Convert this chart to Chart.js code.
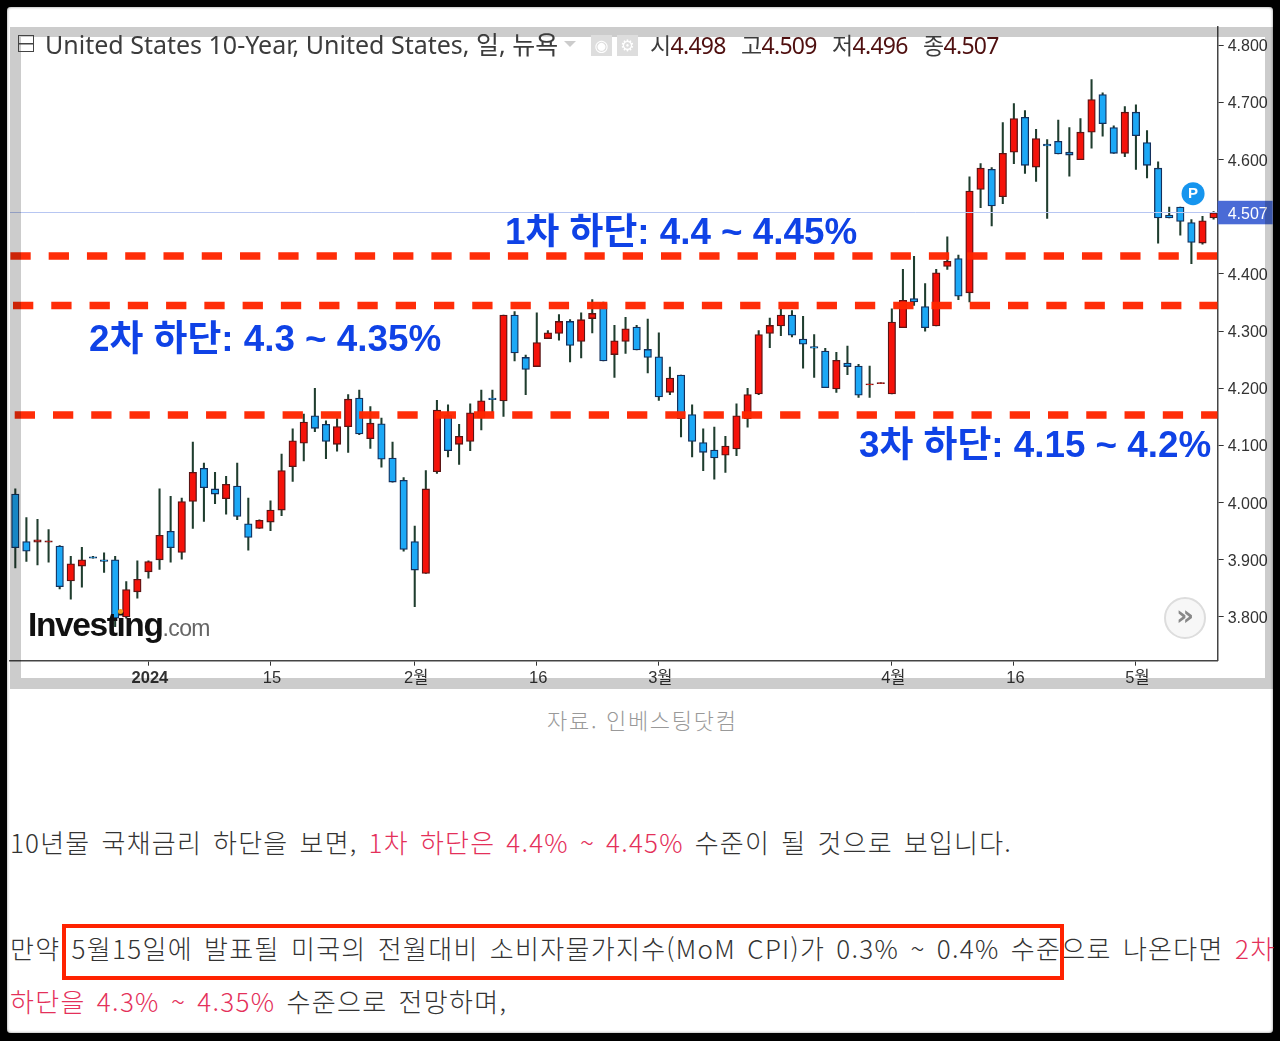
<!DOCTYPE html>
<html lang="ko">
<head>
<meta charset="utf-8">
<title>United States 10-Year</title>
<script src="https://cdn.jsdelivr.net/npm/chart.js@4"></script>
<style>
    html, body { margin: 0; padding: 0; background: #000; }
    #page { position: relative; width: 1280px; height: 1041px; background: #000; overflow: hidden; }
    #paper { position: absolute; left: 7px; top: 7px; width: 1266px; height: 1026px; background: #fff; border-radius: 4px; box-shadow: inset 0 0 3px #888; }
    #chart { position: absolute; left: 0; top: 0; }
    #frame { position: absolute; left: 10px; top: 27px; width: 1263px; height: 662px; box-sizing: border-box; border-style: solid; border-color: #ccc; border-width: 10px 8px 11px 11px; mix-blend-mode: multiply; pointer-events: none; }
    .txt { position: absolute; white-space: nowrap; line-height: 1; }
    .head { font-family: "Noto Sans", "Noto Sans CJK KR", sans-serif; font-size: 25px; color: #3c3c3c; }
    .ohlc { font-size: 23px; letter-spacing: -0.7px; top: 34px; }
    .ohlc b { font-weight: 400; color: #4f1010; }
    .mark { font-family: "Liberation Sans", "Noto Sans CJK KR", sans-serif; font-weight: 700; font-size: 36.8px; color: #0f42e6; }
    .body { font-family: "Noto Sans CJK KR", sans-serif; font-weight: 300; font-size: 26px; letter-spacing: 1.3px; word-spacing: 2.6px; color: #333; }
    .red { color: #e4305a; }
    #redbox { position: absolute; left: 62px; top: 924px; width: 1002px; height: 56px; box-sizing: border-box; border: 4px solid #ff2200; }
</style>
</head>
<body>
<div id="page">
    <div id="paper"></div>
    <canvas id="chart" width="1280" height="690"></canvas>
    <div id="frame"></div>

    <div style="position:absolute;left:18px;top:35px;width:14px;height:15px;border:1.5px solid #444;background:linear-gradient(#444,#444) center/100% 1.5px no-repeat;"></div>
    <div class="txt head" style="left:45px;top:32px;">United States 10-Year, United States, 일, 뉴욕</div>
    <div style="position:absolute;left:564px;top:41px;border:6px solid transparent;border-top:6px solid #ccc;"></div>
    <div style="position:absolute;left:591px;top:35px;width:21px;height:21px;background:#ddd;color:#fff;font:16px/21px 'DejaVu Sans';text-align:center;">◉</div>
    <div style="position:absolute;left:617px;top:35px;width:21px;height:21px;background:#ddd;color:#fff;font:16px/21px 'DejaVu Sans';text-align:center;">⚙</div>
    <div class="txt head ohlc" style="left:650px;">시<b>4.498</b></div>
    <div class="txt head ohlc" style="left:741px;">고<b>4.509</b></div>
    <div class="txt head ohlc" style="left:832px;">저<b>4.496</b></div>
    <div class="txt head ohlc" style="left:923px;">종<b>4.507</b></div>

    <div class="txt mark" style="left:505px;top:214px;">1차 하단: 4.4 ~ 4.45%</div>
    <div class="txt mark" style="left:89px;top:321px;">2차 하단: 4.3 ~ 4.35%</div>
    <div class="txt mark" style="left:859px;top:427px;">3차 하단: 4.15 ~ 4.2%</div>

    <div class="txt" style="left:28px;top:608px;font:700 33.5px/1 'Liberation Sans';letter-spacing:-1.4px;color:#111;">Investing<span style="font-weight:400;font-size:23px;letter-spacing:-.6px;color:#666;">.com</span></div>
    <div style="position:absolute;left:118px;top:609px;width:5px;height:5px;border-radius:50%;background:#f0a020;"></div>
    <div style="position:absolute;left:1164px;top:597px;width:38px;height:38px;border:2px solid #ddd;border-radius:50%;background:#f7f7f7;color:#888;font:700 28px/34px 'DejaVu Sans';text-align:center;">»</div>

    <div class="txt" style="left:547px;top:708px;font:300 22px/1 'Noto Sans CJK KR';letter-spacing:1.7px;color:#999;">자료. 인베스팅닷컴</div>

    <div class="txt body" style="left:10px;top:829px;letter-spacing:1.2px;">10년물 국채금리 하단을 보면, <span class="red">1차 하단은 4.4% ~ 4.45%</span> 수준이 될 것으로 보입니다.</div>
    <div class="txt body" style="left:10px;top:935px;">만약 5월15일에 발표될 미국의 전월대비 소비자물가지수(MoM CPI)가 0.3% ~ 0.4% 수준으로 나온다면 <span class="red">2차</span></div>
    <div class="txt body" style="left:10px;top:988px;"><span class="red">하단을 4.3% ~ 4.35%</span> 수준으로 전망하며,</div>
    <div id="redbox"></div>
</div>

<script>
// ==================== DADOS ====================

const tickIndex = [12, 23, 36, 47, 58, 79, 90, 101];
const tickLabels = ['2024', '15', '2월', '16', '3월', '4월', '16', '5월'];
const yTicks = [3.8, 3.9, 4.0, 4.1, 4.2, 4.3, 4.4, 4.5, 4.6, 4.7, 4.8];

const opens = [
    4.015, 3.932, 3.931, 3.931, 3.924, 3.863, 3.889, 3.905, 3.900, 3.900,
    3.800, 3.844, 3.879, 3.900, 3.950, 3.913, 4.002, 4.060, 4.024, 4.007,
    4.029, 3.963, 3.955, 3.966, 3.987, 4.063, 4.104, 4.152, 4.137, 4.102,
    4.133, 4.183, 4.112, 4.138, 4.078, 4.039, 3.932, 3.876, 4.054, 4.153,
    4.102, 4.107, 4.148, 4.183, 4.178, 4.328, 4.254, 4.238, 4.287, 4.296,
    4.317, 4.282, 4.322, 4.348, 4.259, 4.282, 4.307, 4.268, 4.255, 4.193,
    4.223, 4.154, 4.105, 4.092, 4.083, 4.094, 4.147, 4.190, 4.296, 4.309,
    4.328, 4.286, 4.273, 4.265, 4.199, 4.244, 4.239, 4.206, 4.208, 4.190,
    4.306, 4.357, 4.343, 4.309, 4.413, 4.427, 4.367, 4.548, 4.583, 4.535,
    4.613, 4.674, 4.587, 4.627, 4.632, 4.613, 4.600, 4.648, 4.714, 4.656,
    4.611, 4.683, 4.630, 4.585, 4.503, 4.517, 4.490, 4.454, 4.498
];
const highs = [
    4.024, 3.974, 3.971, 3.953, 3.925, 3.906, 3.922, 3.906, 3.912, 3.906,
    3.862, 3.898, 3.898, 4.024, 4.011, 4.008, 4.106, 4.069, 4.053, 4.046,
    4.069, 4.008, 3.970, 4.003, 4.085, 4.129, 4.155, 4.200, 4.143, 4.147,
    4.189, 4.197, 4.168, 4.148, 4.106, 4.044, 3.959, 4.056, 4.179, 4.171,
    4.137, 4.173, 4.197, 4.197, 4.328, 4.334, 4.258, 4.332, 4.301, 4.329,
    4.320, 4.332, 4.355, 4.351, 4.310, 4.324, 4.310, 4.321, 4.297, 4.237,
    4.223, 4.171, 4.129, 4.132, 4.116, 4.173, 4.200, 4.301, 4.323, 4.338,
    4.336, 4.326, 4.294, 4.270, 4.263, 4.274, 4.242, 4.239, 4.210, 4.339,
    4.408, 4.431, 4.383, 4.408, 4.465, 4.433, 4.570, 4.593, 4.586, 4.665,
    4.698, 4.686, 4.653, 4.635, 4.669, 4.656, 4.672, 4.740, 4.717, 4.659,
    4.693, 4.696, 4.651, 4.596, 4.517, 4.517, 4.495, 4.501, 4.509
];
const lows = [
    3.886, 3.897, 3.891, 3.896, 3.849, 3.831, 3.852, 3.903, 3.878, 3.783,
    3.798, 3.833, 3.868, 3.883, 3.896, 3.901, 3.955, 3.967, 3.998, 3.980,
    3.970, 3.917, 3.955, 3.951, 3.977, 4.037, 4.073, 4.124, 4.077, 4.090,
    4.088, 4.119, 4.095, 4.062, 4.036, 3.915, 3.818, 3.876, 4.051, 4.080,
    4.067, 4.091, 4.127, 4.158, 4.151, 4.248, 4.189, 4.238, 4.287, 4.284,
    4.246, 4.253, 4.297, 4.248, 4.219, 4.261, 4.267, 4.227, 4.179, 4.189,
    4.115, 4.080, 4.056, 4.041, 4.053, 4.082, 4.132, 4.189, 4.271, 4.292,
    4.290, 4.235, 4.219, 4.201, 4.193, 4.224, 4.184, 4.184, 4.208, 4.190,
    4.306, 4.345, 4.300, 4.309, 4.408, 4.355, 4.351, 4.516, 4.484, 4.523,
    4.593, 4.576, 4.562, 4.497, 4.610, 4.571, 4.600, 4.620, 4.641, 4.611,
    4.605, 4.583, 4.568, 4.454, 4.498, 4.468, 4.418, 4.452, 4.496
];
const closes = [
    3.921, 3.915, 3.935, 3.933, 3.853, 3.893, 3.900, 3.903, 3.897, 3.798,
    3.848, 3.866, 3.897, 3.943, 3.921, 4.002, 4.053, 4.026, 4.015, 4.032,
    3.976, 3.939, 3.969, 3.987, 4.056, 4.108, 4.141, 4.130, 4.107, 4.133,
    4.181, 4.120, 4.139, 4.076, 4.036, 3.918, 3.882, 4.024, 4.162, 4.091,
    4.116, 4.157, 4.178, 4.180, 4.328, 4.262, 4.233, 4.280, 4.297, 4.317,
    4.275, 4.320, 4.331, 4.248, 4.283, 4.304, 4.267, 4.254, 4.185, 4.218,
    4.147, 4.107, 4.088, 4.078, 4.099, 4.152, 4.189, 4.294, 4.310, 4.328,
    4.293, 4.277, 4.270, 4.201, 4.249, 4.238, 4.188, 4.208, 4.210, 4.316,
    4.354, 4.351, 4.306, 4.402, 4.422, 4.361, 4.545, 4.585, 4.519, 4.611,
    4.672, 4.590, 4.637, 4.624, 4.610, 4.608, 4.648, 4.705, 4.663, 4.611,
    4.683, 4.642, 4.590, 4.498, 4.498, 4.492, 4.455, 4.493, 4.507
];

// linhas de suporte e preço atual
const supportLevels = [4.4315, 4.3447, 4.1531];
const lastPrice = 4.507;

// ==================== MONTAR O GRÁFICO ====================

const isUp = opens.map((o, i) => closes[i] >= o);

// linhas tracejadas e etiqueta de preço (por cima dos candles)
const overlayPlugin = {
    id: 'overlay',
    afterDatasetsDraw(chart) {
        const { ctx, chartArea, scales } = chart;
        const y = scales.y;
        ctx.save();
        ctx.beginPath();
        ctx.rect(chartArea.left, chartArea.top, chartArea.right - chartArea.left, chartArea.bottom - chartArea.top);
        ctx.clip();

        const py = y.getPixelForValue(lastPrice);
        ctx.strokeStyle = '#b7c6f2';
        ctx.lineWidth = 1;
        ctx.beginPath();
        ctx.moveTo(chartArea.left, Math.round(py) - 0.5);
        ctx.lineTo(chartArea.right, Math.round(py) - 0.5);
        ctx.stroke();

        const phases = [0.4, 3, 4.7];
        ctx.strokeStyle = 'rgba(255,38,0,0.97)';
        ctx.lineWidth = 7.5;
        ctx.setLineDash([20.3, 17.97]);
        supportLevels.forEach((level, i) => {
            const ly = y.getPixelForValue(level);
            ctx.lineDashOffset = -phases[i];
            ctx.beginPath();
            ctx.moveTo(chartArea.left - 38.27, ly);
            ctx.lineTo(chartArea.right, ly);
            ctx.stroke();
        });
        ctx.restore();

        // bolinha P perto do último candle
        const px = scales.x.getPixelForValue(106.15);
        const pTop = y.getPixelForValue(4.5405);
        ctx.save();
        ctx.fillStyle = '#1695ee';
        ctx.beginPath();
        ctx.arc(px, pTop, 11.5, 0, Math.PI * 2);
        ctx.fill();
        ctx.fillStyle = '#fff';
        ctx.font = '700 15px "Liberation Sans"';
        ctx.textAlign = 'center';
        ctx.textBaseline = 'middle';
        ctx.fillText('P', px, pTop);

        // etiqueta do preço atual
        ctx.fillStyle = '#4a6bd6';
        ctx.fillRect(chartArea.right, py - 12, 55, 23.5);
        ctx.fillStyle = '#fff';
        ctx.font = '16px "Liberation Sans"';
        ctx.textAlign = 'left';
        ctx.fillText(lastPrice.toFixed(3), chartArea.right + 10, py + 1.5);
        ctx.restore();
    }
};

new Chart(document.getElementById('chart'), {
    type: 'bar',
    data: {
        datasets: [
            {
                label: 'corpo',
                data: opens.map((o, i) => ({ x: i, y: [Math.min(o, closes[i]), Math.max(o, closes[i])] })),
                backgroundColor: isUp.map(u => u ? '#f5120a' : '#1ca8f6'),
                borderColor: isUp.map(u => u ? '#5c1414' : '#14305c'),
                borderWidth: 1.3,
                borderSkipped: false,
                barThickness: 7.5,
                grouped: false,
                order: 1
            },
            {
                label: 'pavio',
                data: lows.map((l, i) => ({ x: i, y: [l, highs[i]] })),
                backgroundColor: '#1f3d2e',
                borderWidth: 0,
                barThickness: 1.4,
                grouped: false,
                order: 2
            }
        ]
    },
    options: {
        responsive: false,
        animation: false,
        devicePixelRatio: 1,
        layout: { padding: { left: 10, top: 27, right: 0, bottom: 0 } },
        plugins: { legend: { display: false }, tooltip: { enabled: false } },
        scales: {
            x: {
                type: 'linear',
                offset: false,
                min: -0.478,
                max: 108.37,
                afterFit: s => { s.height = 29.3; },
                afterBuildTicks: s => { s.ticks = tickIndex.map(v => ({ value: v })); },
                border: { color: '#444', width: 1.5 },
                grid: { offset: false, drawOnChartArea: false, tickLength: 5, color: '#333' },
                ticks: {
                    autoSkip: false,
                    maxRotation: 0,
                    padding: 3,
                    labelOffset: 1.5,
                    color: '#333',
                    callback: v => tickLabels[tickIndex.indexOf(v)],
                    font: ctx => ({
                        family: '"Liberation Sans", "Noto Sans CJK KR"',
                        size: 16.5,
                        weight: ctx.tick && ctx.tick.value === tickIndex[0] ? 'bold' : 'normal'
                    })
                }
            },
            y: {
                position: 'right',
                min: 3.7235,
                max: 4.832,
                afterFit: s => { s.width = 62.3; },
                afterBuildTicks: s => { s.ticks = yTicks.map(v => ({ value: v })); },
                border: { color: '#444', width: 1.5 },
                grid: { drawOnChartArea: false, tickLength: 6, color: '#333' },
                ticks: {
                    padding: 4,
                    labelOffset: 1.5,
                    color: '#333',
                    font: { family: '"Liberation Sans"', size: 16 },
                    callback: v => v.toFixed(3)
                }
            }
        }
    },
    plugins: [overlayPlugin]
});
</script>
</body>
</html>
